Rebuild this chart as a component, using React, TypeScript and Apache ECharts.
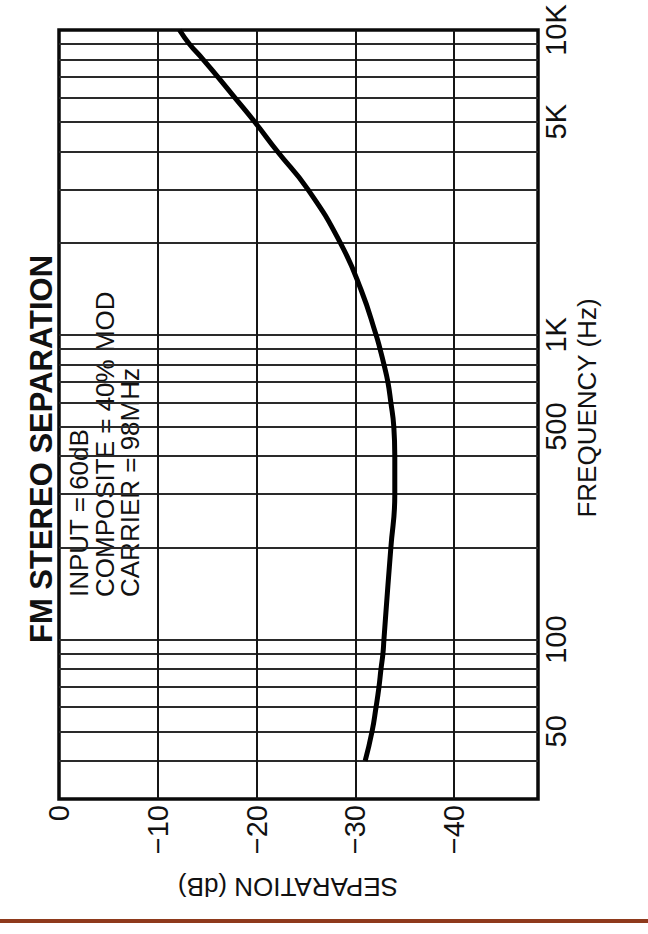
import React, { useEffect, useRef } from "react";
import * as echarts from "echarts";

// ---- data ----
const frequencyHz = [40, 50, 60, 70, 80, 90, 100, 150, 200, 300, 400, 500, 600, 700, 800, 900, 1000, 1400, 2000, 3000, 4000, 5000, 6000, 7000, 8000, 9000, 10000];
const separationDb = [-31.0, -31.7, -32.1, -32.4, -32.6, -32.8, -32.9, -33.3, -33.6, -34.0, -34.0, -33.9, -33.6, -33.3, -32.9, -32.5, -32.1, -30.6, -28.5, -25.2, -22.1, -19.8, -17.8, -16.1, -14.6, -13.2, -12.2];

const freqGridLines = [40, 50, 60, 70, 80, 90, 100, 200, 300, 400, 500, 600, 700, 800, 900, 1000, 2000, 3000, 4000, 5000, 6000, 7000, 8000, 9000];
const dbGridLines = [-10, -20, -30, -40];

const dbTickValues = [0, -10, -20, -30, -40];
const dbTickLabels = ["0", "\u221210", "\u221220", "\u221230", "\u221240"];
const freqTickValues = [50, 100, 500, 1000, 5000, 10000];
const freqTickLabels = ["50", "100", "500", "1K", "5K", "10K"];

const titleText = "FM STEREO SEPARATION";
const annotationLines = ["INPUT = 60dB", "COMPOSITE = 40% MOD", "CARRIER = 98MHz"];
const xAxisTitle = "SEPARATION (dB)";
const yAxisTitle = "FREQUENCY (Hz)";

const FREQ_MIN = 30;
const FREQ_MAX = 10000;
const DB_MIN = -48.5;
const DB_MAX = 0;

export default function App() {
  const ref = useRef<HTMLDivElement>(null);

  useEffect(() => {
    document.body.style.margin = "0";
    const chart = echarts.init(ref.current as HTMLDivElement, null, { renderer: "svg" });
    const font = "'Liberation Sans', Arial, Helvetica, sans-serif";
    const ink = "#111111";
    const seriesData = frequencyHz.map((f, i) => [separationDb[i], f]);

    const annotationX = [79, 105, 130];

    const option: any = {
      animation: false,
      backgroundColor: "#ffffff",
      grid: {
        left: 59,
        right: 110,
        top: 30,
        bottom: 135,
        show: true,
        borderColor: "#0a0a0a",
        borderWidth: 3.5,
        backgroundColor: "transparent",
        containLabel: false,
        outerBoundsMode: "none",
      },
      xAxis: {
        type: "value",
        min: DB_MIN,
        max: DB_MAX,
        inverse: true,
        position: "bottom",
        axisLine: { show: false },
        axisTick: { show: false },
        splitLine: { show: false },
        axisLabel: {
          customValues: dbTickValues,
          rotate: 90,
          margin: 6,
          fontSize: 29,
          fontFamily: font,
          color: ink,
          formatter: (v: number) => {
            const i = dbTickValues.findIndex((d) => Math.abs(d - v) < 1e-6);
            return i >= 0 ? dbTickLabels[i] : "";
          },
        },
      },
      yAxis: [
        {
          type: "log",
          logBase: 10,
          min: FREQ_MIN,
          max: FREQ_MAX,
          position: "left",
          axisLine: { show: false },
          axisTick: { show: false },
          axisLabel: { show: false },
          splitLine: { show: false },
          minorSplitLine: { show: false },
        },
        {
          type: "value",
          min: Math.log10(FREQ_MIN),
          max: Math.log10(FREQ_MAX),
          position: "right",
          axisLine: { show: false },
          axisTick: { show: false },
          splitLine: { show: false },
          axisLabel: {
            customValues: freqTickValues.map((f) => Math.log10(f)),
            rotate: 90,
            margin: 3,
            fontSize: 29,
            fontFamily: font,
            color: ink,
            formatter: (v: number) => {
              const i = freqTickValues.findIndex((f) => Math.abs(Math.log10(f) - v) < 1e-6);
              return i >= 0 ? freqTickLabels[i] : "";
            },
          },
        },
      ],
      series: [
        {
          type: "line",
          name: "grid",
          xAxisIndex: 0,
          yAxisIndex: 0,
          data: seriesData,
          symbol: "none",
          silent: true,
          lineStyle: { width: 0, opacity: 0 },
          z: 1,
          markLine: {
            silent: true,
            symbol: ["none", "none"],
            label: { show: false },
            emphasis: { disabled: true },
            lineStyle: { color: "#2a2a2a", width: 2, type: "solid" },
            data: [
              ...freqGridLines.map((f) => ({ yAxis: f })),
              ...dbGridLines.map((d) => ({ xAxis: d, lineStyle: { color: "#151515", width: 2 } })),
            ],
          },
        },
        {
          type: "line",
          name: "FM stereo separation",
          xAxisIndex: 0,
          yAxisIndex: 0,
          data: seriesData,
          smooth: 0.5,
          symbol: "none",
          lineStyle: { color: "#000000", width: 5, cap: "butt" },
          z: 5,
        },
      ],
      graphic: [
        {
          type: "text",
          x: 41,
          y: 449,
          rotation: Math.PI / 2,
          style: {
            text: titleText,
            font: `bold 31px ${font}`,
            fill: ink,
            align: "center",
            verticalAlign: "middle",
            textAlign: "center",
            textVerticalAlign: "middle",
          },
        },
        ...annotationLines.map((t, i) => ({
          type: "text",
          x: annotationX[i],
          y: 597,
          rotation: Math.PI / 2,
          style: {
            text: t,
            font: `26px ${font}`,
            fill: ink,
            align: "left",
            verticalAlign: "middle",
            textAlign: "left",
            textVerticalAlign: "middle",
          },
        })),
        {
          type: "text",
          x: 587,
          y: 408,
          rotation: Math.PI / 2,
          style: {
            text: yAxisTitle,
            font: `26px ${font}`,
            fill: ink,
            align: "center",
            verticalAlign: "middle",
            textAlign: "center",
            textVerticalAlign: "middle",
          },
        },
        {
          type: "text",
          x: 288,
          y: 887,
          rotation: Math.PI,
          style: {
            text: xAxisTitle,
            font: `26px ${font}`,
            fill: ink,
            align: "center",
            verticalAlign: "middle",
            textAlign: "center",
            textVerticalAlign: "middle",
          },
        },
        {
          type: "rect",
          shape: { x: 0, y: 919, width: 648, height: 4 },
          style: { fill: "#8e3a1c" },
          silent: true,
        },
      ],
    };

    chart.setOption(option);
    return () => chart.dispose();
  }, []);

  return <div ref={ref} style={{ width: 648, height: 934 }} />;
}
